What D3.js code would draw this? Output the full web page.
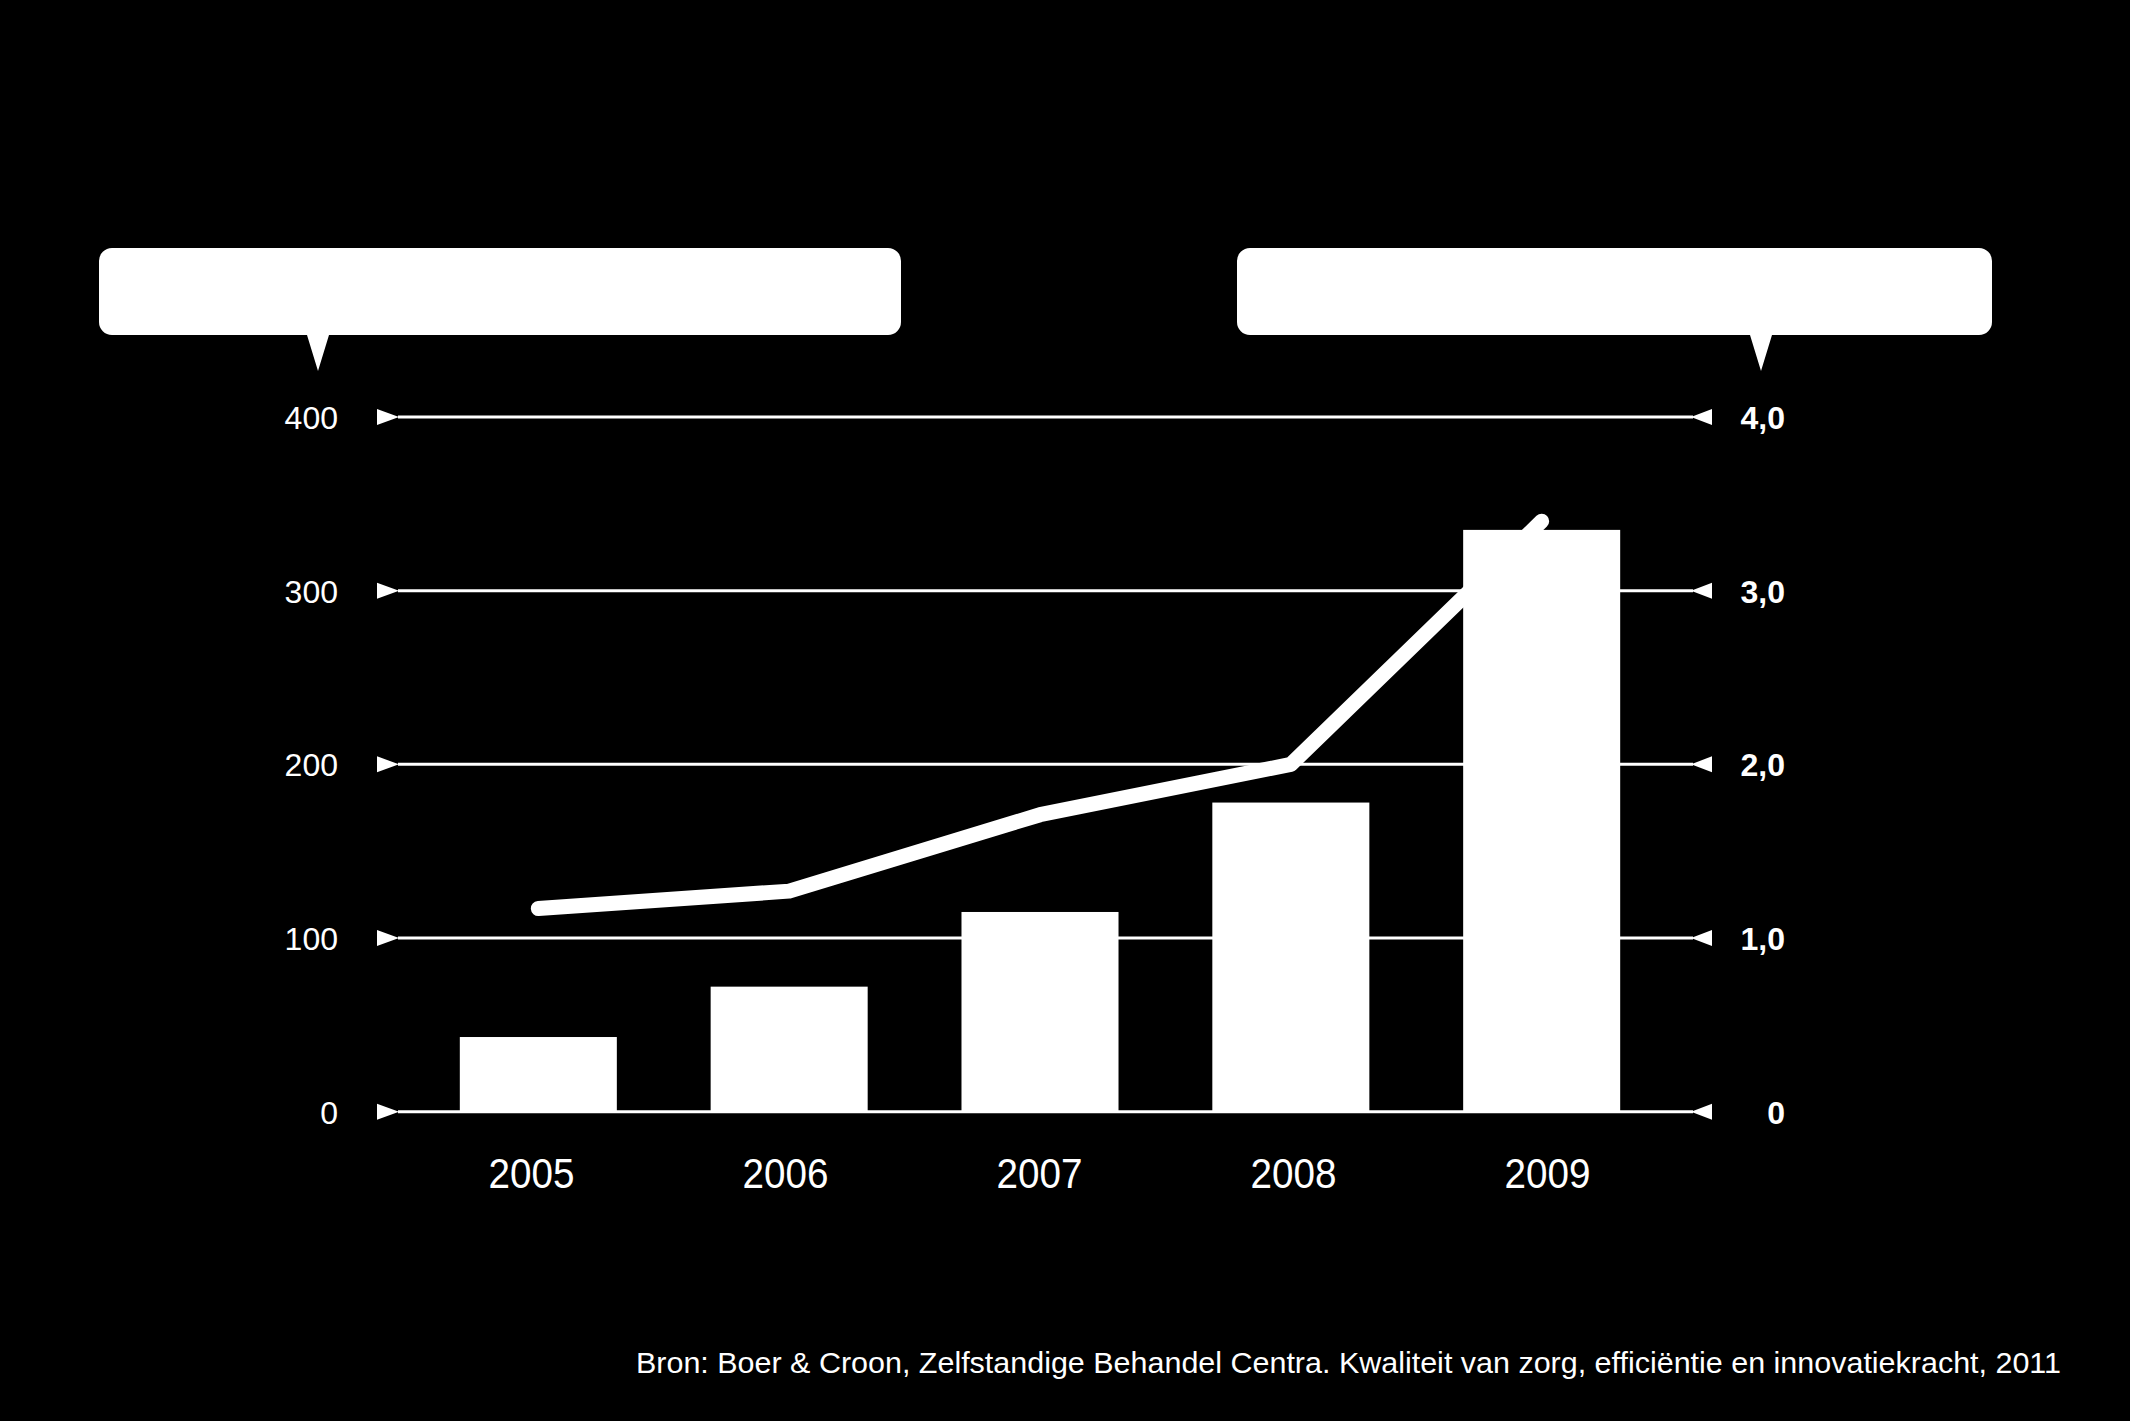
<!DOCTYPE html>
<html>
<head>
<meta charset="utf-8">
<script src="https://cdn.jsdelivr.net/npm/d3@7"></script>
<style>
  html, body { margin: 0; padding: 0; background: #000; }
  svg { display: block; }
  text { font-family: "Liberation Sans", Arial, sans-serif; fill: #fff; }
</style>
</head>
<body>
<div id="chart"></div>
<script>
// ---- data ----
const years = ["2005", "2006", "2007", "2008", "2009"];
const barValues = [43, 72, 115, 178, 335];          // left axis
const lineValues = [1.17, 1.27, 1.71, 2.0, 3.4];     // right axis
const leftTicks = [0, 100, 200, 300, 400];
const rightTicks = [0, 1, 2, 3, 4];
const rightTickLabels = ["0", "1,0", "2,0", "3,0", "4,0"];
const sourceText = "Bron: Boer & Croon, Zelfstandige Behandel Centra. Kwaliteit van zorg, efficiëntie en innovatiekracht, 2011";

// ---- layout ----
const W = 2130, H = 1421;
const svg = d3.select("#chart").append("svg")
  .attr("width", W).attr("height", H);
svg.append("rect").attr("width", W).attr("height", H).attr("fill", "#000");

const x = d3.scaleBand().domain(years).range([366, 1714]).paddingInner(0.374).paddingOuter(0.374);
const xLabel = d3.scalePoint().domain(years).range([531, 1547]);
const yL = d3.scaleLinear().domain([0, 400]).range([1111.7, 417]);
const yR = d3.scaleLinear().domain([0, 4]).range([1111.7, 417]);

// ---- callout boxes ----
function callout(x0, x1, y0, y1, r, px, pw, tipY) {
  const p = d3.path();
  p.moveTo(x0 + r, y0);
  p.lineTo(x1 - r, y0);
  p.arcTo(x1, y0, x1, y0 + r, r);
  p.lineTo(x1, y1 - r);
  p.arcTo(x1, y1, x1 - r, y1, r);
  p.lineTo(px + pw / 2, y1);
  p.lineTo(px, tipY);
  p.lineTo(px - pw / 2, y1);
  p.lineTo(x0 + r, y1);
  p.arcTo(x0, y1, x0, y1 - r, r);
  p.lineTo(x0, y0 + r);
  p.arcTo(x0, y0, x0 + r, y0, r);
  p.closePath();
  return p.toString();
}
svg.append("path").attr("d", callout(99, 901, 248, 335, 13, 318, 22, 371)).attr("fill", "#fff");
svg.append("path").attr("d", callout(1237, 1992, 248, 335, 13, 1761, 22, 371)).attr("fill", "#fff");

// ---- gridlines with triangle ticks ----
const grid = svg.append("g");
leftTicks.forEach(t => {
  const yy = yL(t);
  grid.append("line").attr("x1", 398).attr("x2", 1693).attr("y1", yy).attr("y2", yy)
    .attr("stroke", "#fff").attr("stroke-width", 3);
  grid.append("path").attr("d", `M377,${yy - 8}L399,${yy}L377,${yy + 8}Z`).attr("fill", "#fff");
  grid.append("path").attr("d", `M1712,${yy - 8}L1691,${yy}L1712,${yy + 8}Z`).attr("fill", "#fff");
});

// ---- bars ----
svg.append("g").selectAll("rect").data(years).join("rect")
  .attr("x", d => x(d))
  .attr("width", x.bandwidth())
  .attr("y", (d, i) => yL(barValues[i]))
  .attr("height", (d, i) => yL(0) - yL(barValues[i]))
  .attr("fill", "#fff");

// ---- line ----
const line = d3.line()
  .x((d, i) => x(years[i]) + x.bandwidth() / 2)
  .y(d => yR(d));
svg.append("path").datum(lineValues)
  .attr("d", line)
  .attr("fill", "none").attr("stroke", "#fff")
  .attr("stroke-width", 15)
  .attr("stroke-linecap", "round")
  .attr("stroke-linejoin", "round");

// ---- left axis labels ----
const axL = svg.append("g").attr("transform", "translate(338,0)")
  .call(d3.axisLeft(yL).tickValues(leftTicks).tickSize(0).tickPadding(0));
axL.select(".domain").remove();
axL.selectAll("text").attr("font-size", 32).attr("fill", "#fff")
  .attr("font-family", "Liberation Sans, Arial, sans-serif").attr("dy", "0.36em");

// ---- right axis labels ----
const axR = svg.append("g").attr("transform", "translate(1785,0)")
  .call(d3.axisRight(yR).tickValues(rightTicks).tickSize(0).tickPadding(0)
    .tickFormat((d, i) => rightTickLabels[i]));
axR.select(".domain").remove();
axR.selectAll("text").attr("font-size", 32).attr("font-weight", "bold").attr("fill", "#fff")
  .attr("text-anchor", "end").attr("x", 0)
  .attr("font-family", "Liberation Sans, Arial, sans-serif").attr("dy", "0.36em");

// ---- x axis labels ----
const axX = svg.append("g").attr("transform", "translate(0,1158)")
  .call(d3.axisBottom(xLabel).tickSize(0).tickPadding(0));
axX.select(".domain").remove();
axX.selectAll("text").attr("font-size", 42).attr("fill", "#fff")
  .attr("font-family", "Liberation Sans, Arial, sans-serif")
  .attr("dy", "0.72em")
  .attr("textLength", 86).attr("lengthAdjust", "spacingAndGlyphs");

// ---- source ----
svg.append("text")
  .attr("x", 636).attr("y", 1373)
  .attr("font-size", 30)
  .attr("textLength", 1425).attr("lengthAdjust", "spacingAndGlyphs")
  .text(sourceText);
</script>
</body>
</html>
